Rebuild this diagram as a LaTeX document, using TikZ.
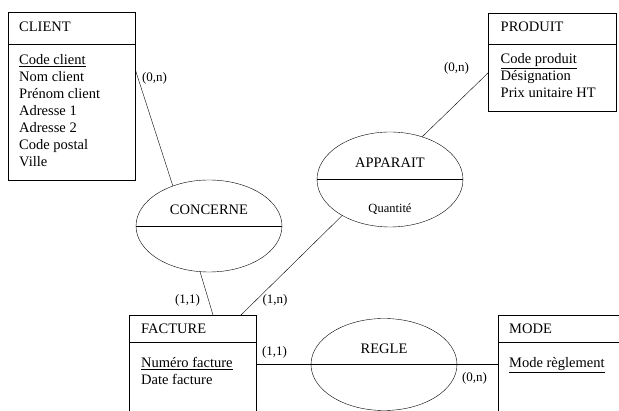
\documentclass[tikz,border=0pt]{standalone}
\usepackage{fontspec}
\setmainfont{Liberation Serif}
\usetikzlibrary{positioning}
\usetikzlibrary{shapes.geometric}

\begin{document}
\begin{tikzpicture}
		[x=1pt, y=-1pt,
		entity/.style={draw, rectangle, anchor=north west, inner sep=0pt, minimum width=127pt},
		assoc/.style={draw, ellipse, inner sep=0pt, minimum width=146pt, minimum height=92pt},
		title/.style={anchor=west, inner sep=0pt, font=\fontsize{14.5}{17}\selectfont},
		attr/.style={anchor=north west, align=left, inner sep=0pt, font=\fontsize{14.5}{17}\selectfont},
		small/.style={inner sep=0pt, font=\fontsize{12.5}{15}\selectfont},
		card/.style={inner sep=0pt, font=\fontsize{13}{15}\selectfont}]
		\useasboundingbox (0,0) rectangle (619,411);

		% entites
		\node[entity, minimum height=168pt] (client) at (8,12) {};
		\node[entity, minimum width=128pt, minimum height=98pt] (produit) at (488,13) {};
		\node[entity, minimum height=110pt] (facture) at (129,315) {};
		\node[entity, minimum height=110pt] (mode) at (498,315) {};

		\draw ([yshift=-32pt]client.north west) -- ([yshift=-32pt]client.north east);
		\draw ([yshift=-31pt]produit.north west) -- ([yshift=-31pt]produit.north east);
		\draw ([yshift=-27pt]facture.north west) -- ([yshift=-27pt]facture.north east);
		\draw ([yshift=-27pt]mode.north west) -- ([yshift=-27pt]mode.north east);

		\node[title] (client-t) at ([xshift=11pt, yshift=-15pt]client.north west) {CLIENT};
		\node[title] (produit-t) at ([xshift=12.5pt, yshift=-14pt]produit.north west) {PRODUIT};
		\node[title] (facture-t) at ([xshift=12pt, yshift=-14pt]facture.north west) {FACTURE};
		\node[title] (mode-t) at ([xshift=11pt, yshift=-14pt]mode.north west) {MODE};

		\node[attr] (client-a) at ([xshift=11pt, yshift=-42pt]client.north west)
			{\underline{Code client}\\Nom client\\Prénom client\\Adresse 1\\Adresse 2\\Code postal\\Ville};
		\node[attr] (produit-a) at ([xshift=12.5pt, yshift=-40.5pt]produit.north west)
			{\underline{Code produit}\\Désignation\\Prix unitaire HT};
		\node[attr] (facture-a) at ([xshift=12pt, yshift=-42pt]facture.north west)
			{\underline{Numéro facture}\\Date facture};
		\node[attr] (mode-a) at ([xshift=11pt, yshift=-42pt]mode.north west)
			{\underline{Mode règlement}};

		% associations
		\node[assoc] (concerne) at (209,226) {};
		\node[assoc, minimum height=95pt] (apparait) at (390,179.5) {};
		\node[assoc] (regle) at (384,364.5) {};

		\draw (concerne.west) -- (concerne.east);
		\draw (apparait.west) -- (apparait.east);

		\node[title, anchor=south, above=11pt of concerne.center] (concerne-t) {CONCERNE};
		\node[title, anchor=south, above=11.5pt of apparait.center] (apparait-t) {APPARAIT};
		\node[small, anchor=base, below=24.5pt of apparait.center] (apparait-a) {Quantité};
		\node[title, anchor=south, above=10.5pt of regle.center] (regle-t) {REGLE};

		% liens
		\draw ([yshift=-58pt]client.north east) -- (concerne.132);
		\draw (concerne.259) -- ([xshift=84pt]facture.north west);
		\draw (apparait.217) -- ([xshift=112pt]facture.north west);
		\draw (apparait.53) -- ([yshift=-60pt]produit.north west);
		\draw (regle.center -| facture.east) -- (regle.center -| mode.west);

		\node[card] (card-cli) at (154.5,78) {(0,n)};
		\node[card] (card-pro) at (456.5,68.5) {(0,n)};
		\node[card] (card-fc) at (187.5,300) {(1,1)};
		\node[card] (card-fa) at (275,300) {(1,n)};
		\node[card] (card-fr) at (274.5,352) {(1,1)};
		\node[card] (card-mo) at (474.5,378) {(0,n)};
	\end{tikzpicture}
\end{document}
